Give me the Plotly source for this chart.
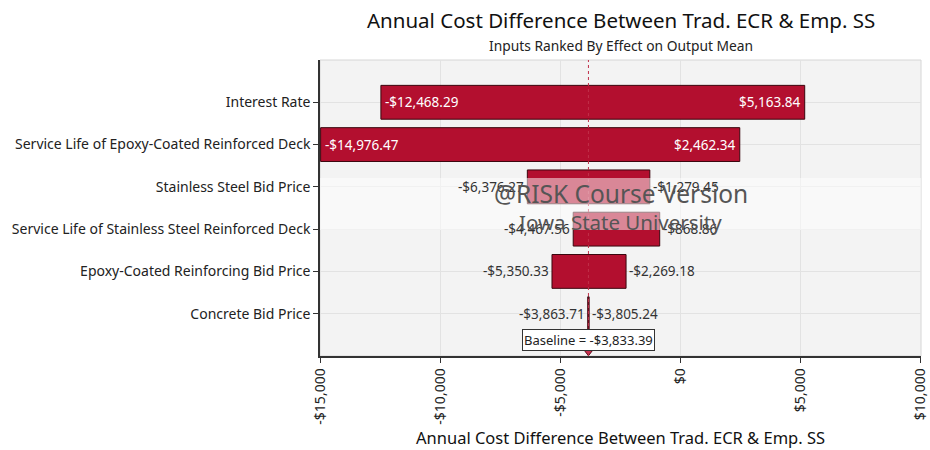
import plotly.graph_objects as go

inputs = ["Interest Rate",
          "Service Life of Epoxy-Coated Reinforced Deck",
          "Stainless Steel Bid Price",
          "Service Life of Stainless Steel Reinforced Deck",
          "Epoxy-Coated Reinforcing Bid Price",
          "Concrete Bid Price"]
low_values = [-12468.29, -14976.47, -6376.27, -4467.56, -5350.33, -3863.71]
high_values = [5163.84, 2462.34, -1279.45, -868.86, -2269.18, -3805.24]
label_inside = [True, True, False, False, False, False]
baseline = -3833.39
x_ticks = [-15000, -10000, -5000, 0, 5000, 10000]
x_tick_labels = ["-$15,000", "-$10,000", "-$5,000", "$0", "$5,000", "$10,000"]

FONT = "Noto Sans"
n = len(inputs)
pos = [n - 1 - i for i in range(n)]  # top row first


def money(v):
    s = "${:,.2f}".format(abs(v))
    return "-" + s if v < 0 else s


fig = go.Figure()
fig.add_trace(go.Bar(
    y=pos, x=[h - l for l, h in zip(low_values, high_values)], base=low_values,
    orientation="h", width=0.8,
    marker=dict(color="#b30f2f", line=dict(color="#3a060e", width=1)),
    hoverinfo="skip", showlegend=False))

fig.add_trace(go.Scatter(
    x=[baseline], y=[-0.9], mode="markers",
    marker=dict(symbol="triangle-down", size=8, color="#c8304f",
                line=dict(color="#5a0a18", width=1)),
    hoverinfo="skip", showlegend=False))

LBL = 13.5
annotations = []
for p, lo, hi, inside in zip(pos, low_values, high_values, label_inside):
    if inside:
        annotations.append(dict(x=lo, y=p, text=money(lo), showarrow=False,
                                xanchor="left", xshift=2,
                                font=dict(family=FONT, size=LBL, color="white")))
        annotations.append(dict(x=hi, y=p, text=money(hi), showarrow=False,
                                xanchor="right", xshift=-2,
                                font=dict(family=FONT, size=LBL, color="white")))
    else:
        annotations.append(dict(x=lo, y=p, text=money(lo), showarrow=False,
                                xanchor="right", xshift=-1,
                                font=dict(family=FONT, size=LBL, color="#333333")))
        annotations.append(dict(x=hi, y=p, text=money(hi), showarrow=False,
                                xanchor="left", xshift=1,
                                font=dict(family=FONT, size=LBL, color="#333333")))

annotations.append(dict(x=baseline, y=-0.62, text="Baseline = " + money(baseline),
                        showarrow=False, xanchor="center", yanchor="middle",
                        bgcolor="white", bordercolor="#333333", borderwidth=1,
                        borderpad=1,
                        font=dict(family=FONT, size=13, color="#222222")))

# watermark
annotations.append(dict(x=0.5, xref="paper", y=2.85, text="@RISK Course Version",
                        showarrow=False, yanchor="middle",
                        font=dict(family=FONT, size=24.5, color="#555555")))
annotations.append(dict(x=0.5, xref="paper", y=2.17, text="Iowa State University",
                        showarrow=False, yanchor="middle",
                        font=dict(family=FONT, size=20.5, color="#555555")))

# titles
annotations.append(dict(x=0.5, xref="paper", y=1.135, yref="paper", yanchor="middle",
                        text="Annual Cost Difference Between Trad. ECR &amp; Emp. SS",
                        showarrow=False, font=dict(family=FONT, size=20.5, color="#111111")))
annotations.append(dict(x=0.5, xref="paper", y=1.05, yref="paper", yanchor="middle",
                        text="Inputs Ranked By Effect on Output Mean",
                        showarrow=False, font=dict(family=FONT, size=13.8, color="#222222")))
annotations.append(dict(x=0.5, xref="paper", y=-0.277, yref="paper", yanchor="middle",
                        text="Annual Cost Difference Between Trad. ECR &amp; Emp. SS",
                        showarrow=False, font=dict(family=FONT, size=16.5, color="#111111")))

shapes = [
    dict(type="rect", xref="paper", yref="paper", x0=0, x1=1, y0=0, y1=1,
         line=dict(color="#d6d6d6", width=1), layer="below"),
    dict(type="line", x0=baseline, x1=baseline, yref="paper", y0=0, y1=1,
         line=dict(color="#c0304a", width=1, dash="dot"), layer="above"),
    dict(type="rect", xref="paper", x0=0, x1=1, y0=1.98, y1=3.21,
         fillcolor="rgba(255,255,255,0.5)", line=dict(width=0), layer="above"),
]

fig.update_layout(
    width=930, height=450,
    margin=dict(l=320, r=9, t=60, b=94, autoexpand=False),
    paper_bgcolor="white", plot_bgcolor="#f3f3f3",
    bargap=0.2,
    annotations=annotations, shapes=shapes,
    font=dict(family=FONT, size=12, color="#222222"),
    xaxis=dict(range=[-15002, 10002], tickvals=x_ticks, ticktext=x_tick_labels,
               tickangle=-90, showgrid=True, gridcolor="#e2e2e2", gridwidth=1,
               zeroline=False, showline=True, linecolor="#333333", linewidth=1.5,
               ticks="outside", ticklen=5, tickcolor="#333333",
               ticklabeloverflow="allow", automargin=False,
               tickfont=dict(family=FONT, size=14, color="#222222")),
    yaxis=dict(range=[-1, n], tickvals=pos, ticktext=inputs, automargin=False,
               showgrid=True, gridcolor="#e2e2e2", zeroline=False,
               showline=True, linecolor="#333333", linewidth=1.5,
               ticks="outside", ticklen=5, tickcolor="#333333",
               tickfont=dict(family=FONT, size=14, color="#222222")),
)

fig.write_html("out.html")
